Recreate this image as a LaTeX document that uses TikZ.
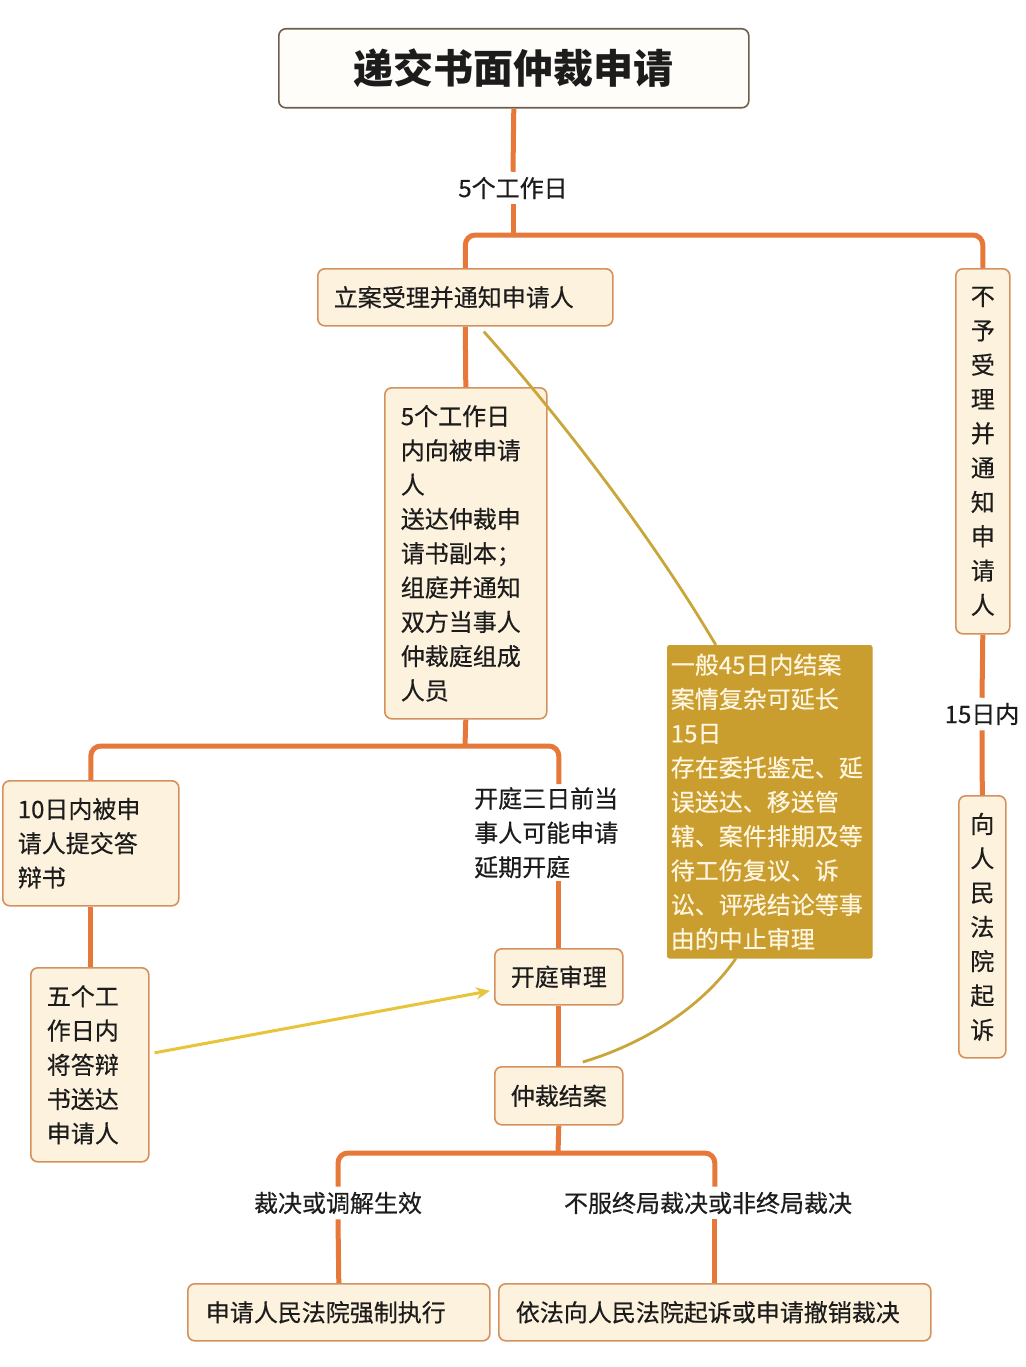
\documentclass[tikz,border=0pt]{standalone}
\usepackage{fontspec}
\setmainfont{Noto Sans CJK SC}
\newfontfamily\medfont{Noto Sans CJK SC}[FakeBold=0.4]
\usetikzlibrary{arrows.meta}
\definecolor{linec}{HTML}{E6783A}
\definecolor{boxline}{HTML}{D4915E}
\definecolor{boxfill}{HTML}{FDF2DE}
\definecolor{titleline}{HTML}{6E5E4E}
\definecolor{titlefill}{HTML}{FFFDF9}
\definecolor{goldfill}{HTML}{C99D2E}
\definecolor{goldtext}{HTML}{FFF6E2}
\definecolor{curvec}{HTML}{C8A63A}
\definecolor{arrowc}{HTML}{E8C43A}
\definecolor{txt}{HTML}{1C1C1C}
\newcommand\myfs{\medfont\fontsize{24pt}{34.3pt}\selectfont}
\newcommand\mytitlefs{\fontsize{40pt}{48pt}\selectfont\bfseries}
\tikzset{
  box/.style={draw=boxline, fill=boxfill, line width=1.6pt, rounded corners=7pt,
    anchor=north west, inner ysep=0pt, font=\myfs, text=txt},
  lbox/.style={align=left},
  vbox/.style={align=center, inner xsep=0pt},
  conn/.style={draw=linec, line width=5pt, rounded corners=10pt},
  lbl/.style={font=\myfs, inner xsep=2pt, inner ysep=5pt, text=txt},
  curve/.style={draw=curvec, line width=2.8pt},
  yarrow/.style={draw=arrowc, line width=3pt, -{Stealth[length=14pt,width=12pt]}},
}
\begin{document}
\begin{tikzpicture}[x=1pt,y=-1pt]
\useasboundingbox[fill=white] (0,0) rectangle (1025,1367);

% nodes
\node[box, draw=titleline, fill=titlefill, font=\mytitlefs, minimum width=470pt, minimum height=79pt] (title) at (278,28) {递交书面仲裁申请};
\node[lbl] (l1) at (513,188) {5个工作日};
\coordinate (j1) at (513,235);

\node[box, lbox, text width=263pt, inner xsep=16pt, minimum height=57pt] (lian) at (317,268) {立案受理并通知申请人};
\node[box, vbox, minimum width=54pt, minimum height=365pt] (buyu) at (955,268) {不\\予\\受\\理\\并\\通\\知\\申\\请\\人};
\node[lbl] (l15) at (982,714) {15日内};
\node[box, vbox, minimum width=47pt, minimum height=262pt] (xiang) at (958,795) {向\\人\\民\\法\\院\\起\\诉};

\node[box, lbox, text width=130pt, inner xsep=16pt, minimum height=331pt] (song) at (384,387) {5个工作日\\内向被申请\\人\\送达仲裁申\\请书副本；\\组庭并通知\\双方当事人\\仲裁庭组成\\人员};
\coordinate (j2) at (465,746);

\node[box, lbox, text width=146pt, inner xsep=15pt, minimum height=125pt] (ten) at (2,780) {10日内被申\\请人提交答\\辩书};
\node[box, lbox, text width=86pt, inner xsep=16pt, minimum height=194pt] (wu) at (30,967) {五个工\\作日内\\将答辩\\书送达\\申请人};

\node[lbl, align=left, inner ysep=3pt, anchor=north west] (kq) at (472,784) {开庭三日前当\\事人可能申请\\延期开庭};
\node[box, minimum width=128pt, minimum height=56pt] (kt) at (494,948) {开庭审理};
\node[box, minimum width=128pt, minimum height=58pt] (zc) at (494,1066) {仲裁结案};

\node[box, lbox, draw=goldfill, fill=goldfill, rounded corners=2pt, text=goldtext, text width=198pt, inner xsep=3pt, minimum height=312pt] (gold) at (667,645) {一般45日内结案\\案情复杂可延长\\15日\\存在委托鉴定、延\\误送达、移送管\\辖、案件排期及等\\待工伤复议、诉\\讼、评残结论等事\\由的中止审理};

\coordinate (j3) at (558,1153);
\node[lbl] (lz) at (338,1203) {裁决或调解生效};
\node[lbl] (lb) at (708,1203) {不服终局裁决或非终局裁决};
\node[box, lbox, text width=266pt, inner xsep=18pt, minimum height=57pt] (bl) at (187,1283) {申请人民法院强制执行};
\node[box, lbox, text width=398pt, inner xsep=17pt, minimum height=57pt] (br) at (498,1283) {依法向人民法院起诉或申请撤销裁决};

% connectors
\draw[conn] (title.south) -- (l1.north);
\draw[conn] (l1.south) -- (j1);
\draw[conn] (lian.north) |- (j1) -| (buyu.north);
\draw[conn] (buyu.south) -- (l15.north);
\draw[conn] (l15.south) -- (xiang.north);
\draw[conn] (lian.south) -- (song.north);
\draw[conn] (song.south) -- (j2);
\draw[conn] (ten.north) |- (j2) -| (kt.north |- kq.north);
\draw[conn] (kt.north |- kq.south) -- (kt.north);
\draw[conn] (ten.south -| 90,0) -- (wu.north -| 90,0);
\draw[conn] (kt.south) -- (zc.north);
\draw[conn] (zc.south) -- (j3);
\draw[conn] (lz.north) |- (j3) -| (br.north |- lb.north);
\draw[conn] (lz.south) -- (bl.north);
\draw[conn] (br.north |- lb.south) -- (br.north);

% curves and arrow
\draw[curve] ([xshift=18.5pt,yshift=-5pt]lian.south) .. controls (545,400) and (645,525) .. ([xshift=-54pt]gold.north);
\draw[curve] ([xshift=-34pt]gold.south) .. controls (700,1010) and (640,1045) .. ([xshift=24pt,yshift=4pt]zc.north);
\draw[yarrow] ([xshift=5pt,yshift=12pt]wu.east) -- ([xshift=-4pt,yshift=-14pt]kt.west);
\end{tikzpicture}
\end{document}
